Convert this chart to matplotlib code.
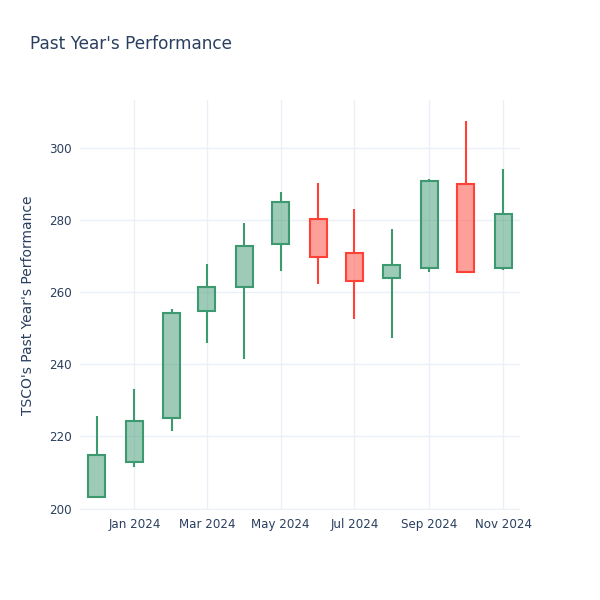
import datetime as dt
import matplotlib
matplotlib.use("Agg")
import matplotlib.pyplot as plt
import matplotlib.dates as mdates

# monthly candles, one per month start
months = ["2023-12-01", "2024-01-01", "2024-02-01", "2024-03-01", "2024-04-01", "2024-05-01",
          "2024-06-01", "2024-07-01", "2024-08-01", "2024-09-01", "2024-10-01", "2024-11-01"]
opens = [203.2, 213.0, 225.0, 254.7, 261.5, 273.3, 280.4, 270.9, 264.0, 266.6, 290.1, 266.7]
closes = [214.8, 224.4, 254.1, 261.4, 272.9, 285.1, 269.9, 263.1, 267.5, 290.9, 265.5, 281.8]
highs = [225.6, 233.2, 255.4, 267.8, 279.1, 287.7, 290.2, 283.0, 277.5, 291.3, 307.5, 294.1]
lows = [203.0, 211.5, 221.6, 246.0, 241.5, 265.8, 262.2, 252.5, 247.4, 265.5, 265.5, 266.2]

tick_dates = ["2024-01-01", "2024-03-01", "2024-05-01", "2024-07-01", "2024-09-01", "2024-11-01"]
y_ticks = [200, 220, 240, 260, 280, 300]

inc_color = "#3D9970"
dec_color = "#FF4136"
text_color = "#2a3f5f"
grid_color = "#EBF0F8"

dates = [dt.datetime.strptime(d, "%Y-%m-%d") for d in months]
x = mdates.date2num(dates)

fig = plt.figure(figsize=(6, 6), dpi=100)
ax = fig.add_axes([0.1333, 0.15, 0.7334, 0.6833])

for xi, o, c, h, l in zip(x, opens, closes, highs, lows):
    col = inc_color if c >= o else dec_color
    top, bot = max(o, c), min(o, c)
    ax.plot([xi, xi], [top, h], color=col, lw=1.5, solid_capstyle="butt", zorder=3)
    ax.plot([xi, xi], [l, bot], color=col, lw=1.5, solid_capstyle="butt", zorder=3)
    ax.bar(xi, top - bot, bottom=bot, width=14, color=col, alpha=0.5, zorder=2)
    ax.bar(xi, top - bot, bottom=bot, width=14, facecolor="none", edgecolor=col,
           lw=1.5, zorder=3)

ax.set_xlim(mdates.date2num(dt.datetime(2023, 11, 17)), mdates.date2num(dt.datetime(2024, 11, 15)))
ax.set_ylim(199.6, 313.3)

ticks = [mdates.date2num(dt.datetime.strptime(d, "%Y-%m-%d")) for d in tick_dates]
ax.set_xticks(ticks)
ax.set_xticklabels([dt.datetime.strptime(d, "%Y-%m-%d").strftime("%b %Y") for d in tick_dates])
ax.set_yticks(y_ticks)

for s in ax.spines.values():
    s.set_visible(False)
ax.grid(True, color=grid_color, lw=1)
ax.set_axisbelow(True)
ax.tick_params(length=0, labelsize=8.6, colors=text_color, pad=6)

ax.set_ylabel("TSCO's Past Year's Performance", fontsize=10, color=text_color, labelpad=10)
fig.text(0.05, 0.926, "Past Year's Performance", fontsize=12.2, color=text_color, va="center")

fig.savefig("out.png", dpi=100)
